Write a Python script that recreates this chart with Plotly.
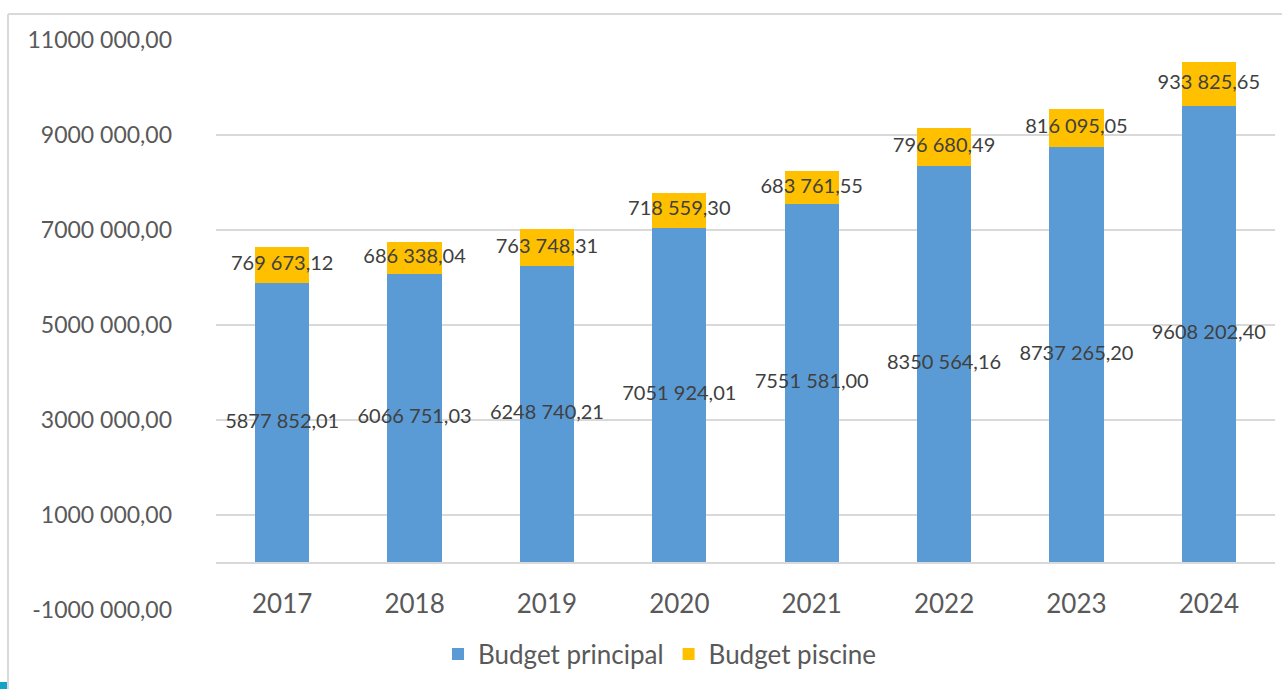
import plotly.graph_objects as go

# Budget data, in euros
years = ["2017", "2018", "2019", "2020", "2021", "2022", "2023", "2024"]
budget_principal = [5877852.01, 6066751.03, 6248740.21, 7051924.01,
                    7551581.00, 8350564.16, 8737265.20, 9608202.40]
budget_piscine = [769673.12, 686338.04, 763748.31, 718559.30,
                  683761.55, 796680.49, 816095.05, 933825.65]
y_ticks = [-1000000, 1000000, 3000000, 5000000, 7000000, 9000000, 11000000]

BLUE = "#5B9BD5"
GOLD = "#FFC000"
GRID = "#D9D9D9"
FONT = "Lato, Carlito, Calibri, sans-serif"

W, H = 1282, 689
L, R, T, B = 216, 7, 40, 79
Y_MIN, Y_MAX = y_ticks[0], y_ticks[-1]


def fr_amount(v):
    """French-style amount: space before the last thousand group, comma decimals."""
    sign = "-" if v < 0 else ""
    whole, dec = f"{abs(v):.2f}".split(".")
    if len(whole) > 3:
        whole = whole[:-3] + " " + whole[-3:]
    return f"{sign}{whole},{dec}"


fig = go.Figure()
fig.add_bar(x=years, y=budget_principal, name="Budget principal",
            marker=dict(color=BLUE, line=dict(width=0)), width=0.41)
fig.add_bar(x=years, y=budget_piscine, name="Budget piscine",
            marker=dict(color=GOLD, line=dict(width=0)), width=0.41)

# Value labels centred in each stacked segment
label_font = dict(family=FONT, size=20, color="#404040")
fig.add_scatter(x=years, y=[v / 2 for v in budget_principal],
                text=[fr_amount(v) for v in budget_principal],
                mode="text", textposition="middle center",
                textfont=label_font, showlegend=False, hoverinfo="skip",
                cliponaxis=False)
fig.add_scatter(x=years,
                y=[p + s / 2 for p, s in zip(budget_principal, budget_piscine)],
                text=[fr_amount(v) for v in budget_piscine],
                mode="text", textposition="middle center",
                textfont=label_font, showlegend=False, hoverinfo="skip",
                cliponaxis=False)

plot_w = W - L - R
plot_h = H - T - B


def px_x(px):
    return (px - L) / plot_w


def px_y(py):
    return (H - B - py) / plot_h


fig.update_layout(
    width=W, height=H,
    margin=dict(l=L, r=R, t=T, b=B),
    barmode="stack",
    paper_bgcolor="white",
    plot_bgcolor="white",
    font=dict(family=FONT, color="#595959"),
    showlegend=True,
    legend=dict(orientation="h", x=px_x(660), xanchor="center",
                y=px_y(654), yanchor="middle",
                font=dict(family=FONT, size=26, color="#595959"),
                itemwidth=30, traceorder="normal",
                bgcolor="rgba(0,0,0,0)"),
    xaxis=dict(
        type="category",
        anchor="free",
        position=(0 - Y_MIN) / (Y_MAX - Y_MIN),
        showgrid=False,
        showline=True, linecolor=GRID, linewidth=2,
        zeroline=False,
        ticks="",
        ticklabelstandoff=18,
        tickfont=dict(family=FONT, size=26, color="#595959"),
    ),
    yaxis=dict(
        range=[Y_MIN, Y_MAX],
        tickvals=y_ticks,
        ticktext=[fr_amount(v) for v in y_ticks],
        tickfont=dict(family=FONT, size=23, color="#595959"),
        showgrid=True, gridcolor=GRID, gridwidth=2,
        zeroline=False,
        showline=False,
        ticks="",
        ticklabelstandoff=43,
    ),
    shapes=[
        # frame around the chart area
        dict(type="line", xref="paper", yref="paper",
             x0=px_x(8), x1=px_x(W + 5), y0=px_y(14), y1=px_y(14),
             line=dict(color=GRID, width=2)),
        dict(type="line", xref="paper", yref="paper",
             x0=px_x(8), x1=px_x(8), y0=px_y(14), y1=px_y(H + 5),
             line=dict(color=GRID, width=2)),
        # small corner marker
        dict(type="rect", xref="paper", yref="paper",
             x0=px_x(0), x1=px_x(7), y0=px_y(682), y1=px_y(H + 2),
             fillcolor="#13A3C4", line=dict(width=0)),
    ],
)

fig.write_html("out.html")
